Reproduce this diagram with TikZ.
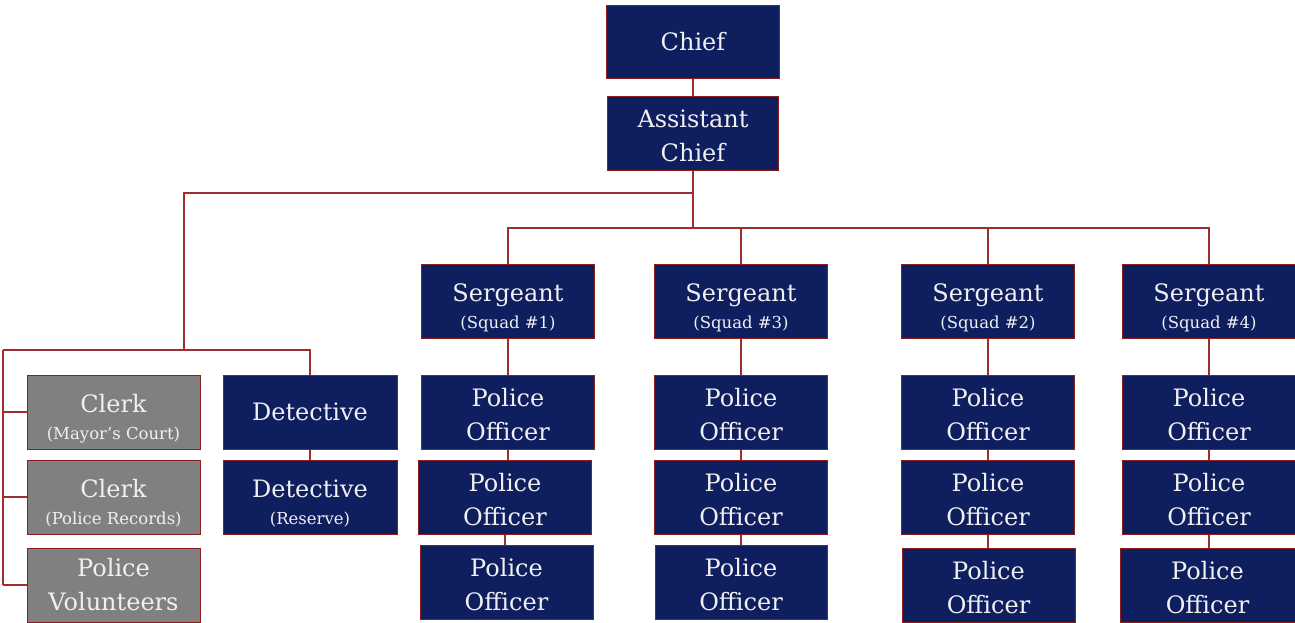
\documentclass[tikz,border=0pt]{standalone}
\usepackage{fontspec}
\setmainfont{DejaVu Serif}
\definecolor{navy}{RGB}{14,30,94}
\definecolor{boxgrey}{RGB}{128,128,128}
\definecolor{boxedge}{RGB}{140,30,30}
\definecolor{linkred}{RGB}{160,45,45}
\definecolor{txt}{RGB}{240,240,240}
\newcommand{\subt}[1]{{\fontsize{16.5}{19}\selectfont #1}}
\newcommand{\tstrut}[1]{\rule{0pt}{#1}}
\newcommand{\twoline}[2]{\tstrut{31pt}#1\\[-7pt]\subt{#2}}
\newcommand{\pair}[2]{\tstrut{23.5pt}#1\\#2}
\begin{document}
\begin{tikzpicture}[x=1pt,y=-1pt,
  box/.style={draw=boxedge, line width=1pt, fill=navy, text=txt,
    minimum width=173pt, minimum height=74pt, inner sep=0pt, align=center,
    font=\fontsize{24}{34}\selectfont},
  gbox/.style={box, fill=boxgrey},
  link/.style={draw=linkred, line width=1.4pt}]
\useasboundingbox (0,0) rectangle (1295,622);
% top
\node[box, minimum height=73pt] (chief) at (693,41.5) {Chief};
\node[box, minimum width=171pt] (ac) at (693,133) {\pair{Assistant}{Chief}};
% sergeants
\node[box] (s1) at (508,301) {\twoline{Sergeant}{(Squad \#1)}};
\node[box] (s3) at (741,301) {\twoline{Sergeant}{(Squad \#3)}};
\node[box] (s2) at (988,301) {\twoline{Sergeant}{(Squad \#2)}};
\node[box] (s4) at (1209,301) {\twoline{Sergeant}{(Squad \#4)}};
% officers column 1
\node[box] (o11) at (508,412) {\pair{Police}{Officer}};
\node[box] (o12) at (505,497) {\pair{Police}{Officer}};
\node[box] (o13) at (506.5,582) {\pair{Police}{Officer}};
% column 2
\node[box] (o21) at (741,412) {\pair{Police}{Officer}};
\node[box] (o22) at (741,497) {\pair{Police}{Officer}};
\node[box, minimum width=172pt] (o23) at (741,582) {\pair{Police}{Officer}};
% column 3
\node[box] (o31) at (988,412) {\pair{Police}{Officer}};
\node[box] (o32) at (988,497) {\pair{Police}{Officer}};
\node[box] (o33) at (988.5,585) {\pair{Police}{Officer}};
% column 4
\node[box] (o41) at (1209,412) {\pair{Police}{Officer}};
\node[box] (o42) at (1209,497) {\pair{Police}{Officer}};
\node[box, minimum width=175pt] (o43) at (1207.5,585) {\pair{Police}{Officer}};
% left group
\node[gbox] (c1) at (113.5,412) {\twoline{Clerk}{(Mayor's Court)}};
\node[gbox] (c2) at (113.5,497) {\twoline{Clerk}{(Police Records)}};
\node[gbox] (pv) at (113.5,585) {Police\\Volunteers};
\node[box, minimum width=174pt] (d1) at (310,412) {Detective};
\node[box, minimum width=174pt] (d2) at (310,497) {\twoline{Detective}{(Reserve)}};
% junctions
\coordinate (jl) at (693,193);
\coordinate (jr) at (693,228);
\coordinate (jlv) at (184,350);
\coordinate (jll) at (3,350);
\coordinate (jlb) at (3,585);
% connectors
\draw[link] (chief.south) -- (ac.north);
\draw[link] (ac.south) -- (jr);
\draw[link] (jl) -| (jlv);
\draw[link] (jll) -| (d1.north);
\draw[link] (jll) -- (jlb);
\draw[link] (c1.west) -- (c1.west -| jll);
\draw[link] (c2.west) -- (c2.west -| jll);
\draw[link] (pv.west) -- (jlb);
\draw[link] (d1) -- (d2);
\draw[link] (s1.north) |- (jr) -| (s4.north);
\draw[link] (s3.north) -- (s3.north |- jr);
\draw[link] (s2.north) -- (s2.north |- jr);
\draw[link] (s1) -- (o11);
\draw[link] (s3) -- (o21);
\draw[link] (s2) -- (o31);
\draw[link] (s4) -- (o41);
\draw[link] (o11.south) -- (o12.north -| o11.south);
\draw[link] (o12.south) -- (o13.north -| o12.south);
\draw[link] (o21) -- (o22);
\draw[link] (o22.south) -- (o23.north -| o22.south);
\draw[link] (o31) -- (o32);
\draw[link] (o32.south) -- (o33.north -| o32.south);
\draw[link] (o41) -- (o42);
\draw[link] (o42.south) -- (o43.north -| o42.south);
\end{tikzpicture}
\end{document}
